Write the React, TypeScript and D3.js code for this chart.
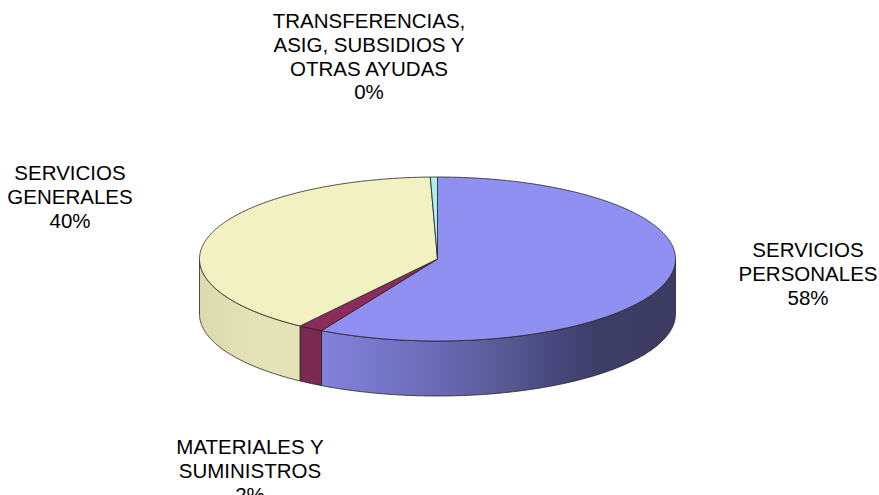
import React from 'react';
import * as d3 from 'd3';

// gasto por capitulo (porcentaje)
const categories = [
  ['SERVICIOS', 'PERSONALES'],
  ['MATERIALES Y', 'SUMINISTROS'],
  ['SERVICIOS', 'GENERALES'],
  ['TRANSFERENCIAS,', 'ASIG, SUBSIDIOS Y', 'OTRAS AYUDAS'],
];
const values = [58.1, 1.7, 39.72, 0.48];

const topColors = ['#9090f2', '#8c2b5c', '#f2f1c2', '#aeeef0'];
const sideStops = [
  [[322, '#8282dc'], [420, '#6e6ebc'], [500, '#5a5a98'], [560, '#46467a'], [600, '#3d3d66'], [676, '#3c3c62']],
  [[200, '#7b2950'], [676, '#7b2950']],
  [[200, '#dcdbb0'], [260, '#e4e3b8'], [320, '#e3e2b6']],
  [[200, '#a0dcde'], [676, '#a0dcde']],
];
// anchor of each label block: center x, first baseline
const labelPos = [[808, 257], [250, 454], [70, 180], [369, 28]];

const W = 879, H = 495;
const cx = 437.5, cy = 259, rx = 238, ry = 82, depth = 55;

const pt = (a: number, dy = 0): [number, number] => [cx + rx * Math.sin(a), cy - ry * Math.cos(a) + dy];

const arcPts = (a0: number, a1: number, dy = 0) => {
  const n = Math.max(2, Math.ceil(Math.abs(a1 - a0) / 0.01));
  return d3.range(n + 1).map(i => pt(a0 + (a1 - a0) * i / n, dy));
};

export default function App() {
  const slices = d3.pie<number>().sort(null).value(d => d)(values);
  const total = d3.sum(values);
  const line = d3.line();

  const sides = slices.map((s, i) => {
    const a = Math.max(s.startAngle, Math.PI / 2);
    const b = Math.min(s.endAngle, Math.PI * 1.5);
    if (a >= b) return null;
    const pts = [...arcPts(a, b), ...arcPts(b, a, depth)];
    return (
      <path key={'s' + i} d={line(pts) + 'Z'} fill={`url(#side${i})`}
        stroke="#222" strokeWidth={0.8} strokeLinejoin="round" />
    );
  });

  const tops = slices.map((s, i) => {
    const pts: [number, number][] = [[cx, cy], ...arcPts(s.startAngle, s.endAngle)];
    return (
      <path key={'t' + i} d={line(pts) + 'Z'} fill={topColors[i]}
        stroke="#222" strokeWidth={0.8} strokeLinejoin="round" />
    );
  });

  return (
    <svg width={W} height={H} style={{ position: 'absolute', left: 0, top: 0, background: '#fff' }}>
      <defs>
        {sideStops.map((st, i) => (
          <linearGradient key={i} id={`side${i}`} gradientUnits="userSpaceOnUse"
            x1={cx - rx} x2={cx + rx} y1={0} y2={0}>
            {st.map(([x, c], j) => (
              <stop key={j} offset={((x as number) - (cx - rx)) / (2 * rx)} stopColor={c as string} />
            ))}
          </linearGradient>
        ))}
      </defs>
      <g>{sides}</g>
      <g>{tops}</g>
      <g fontFamily="'Liberation Sans', Arial, sans-serif" fontSize={20.5} fill="#000" textAnchor="middle">
        {categories.map((lines, i) => {
          const [x, y] = labelPos[i];
          const all = [...lines, `${Math.round(values[i] / total * 100)}%`];
          return (
            <text key={i} x={x} y={y}>
              {all.map((t, j) => (
                <tspan key={j} x={x} y={y + j * 23.8}>{t}</tspan>
              ))}
            </text>
          );
        })}
      </g>
    </svg>
  );
}
